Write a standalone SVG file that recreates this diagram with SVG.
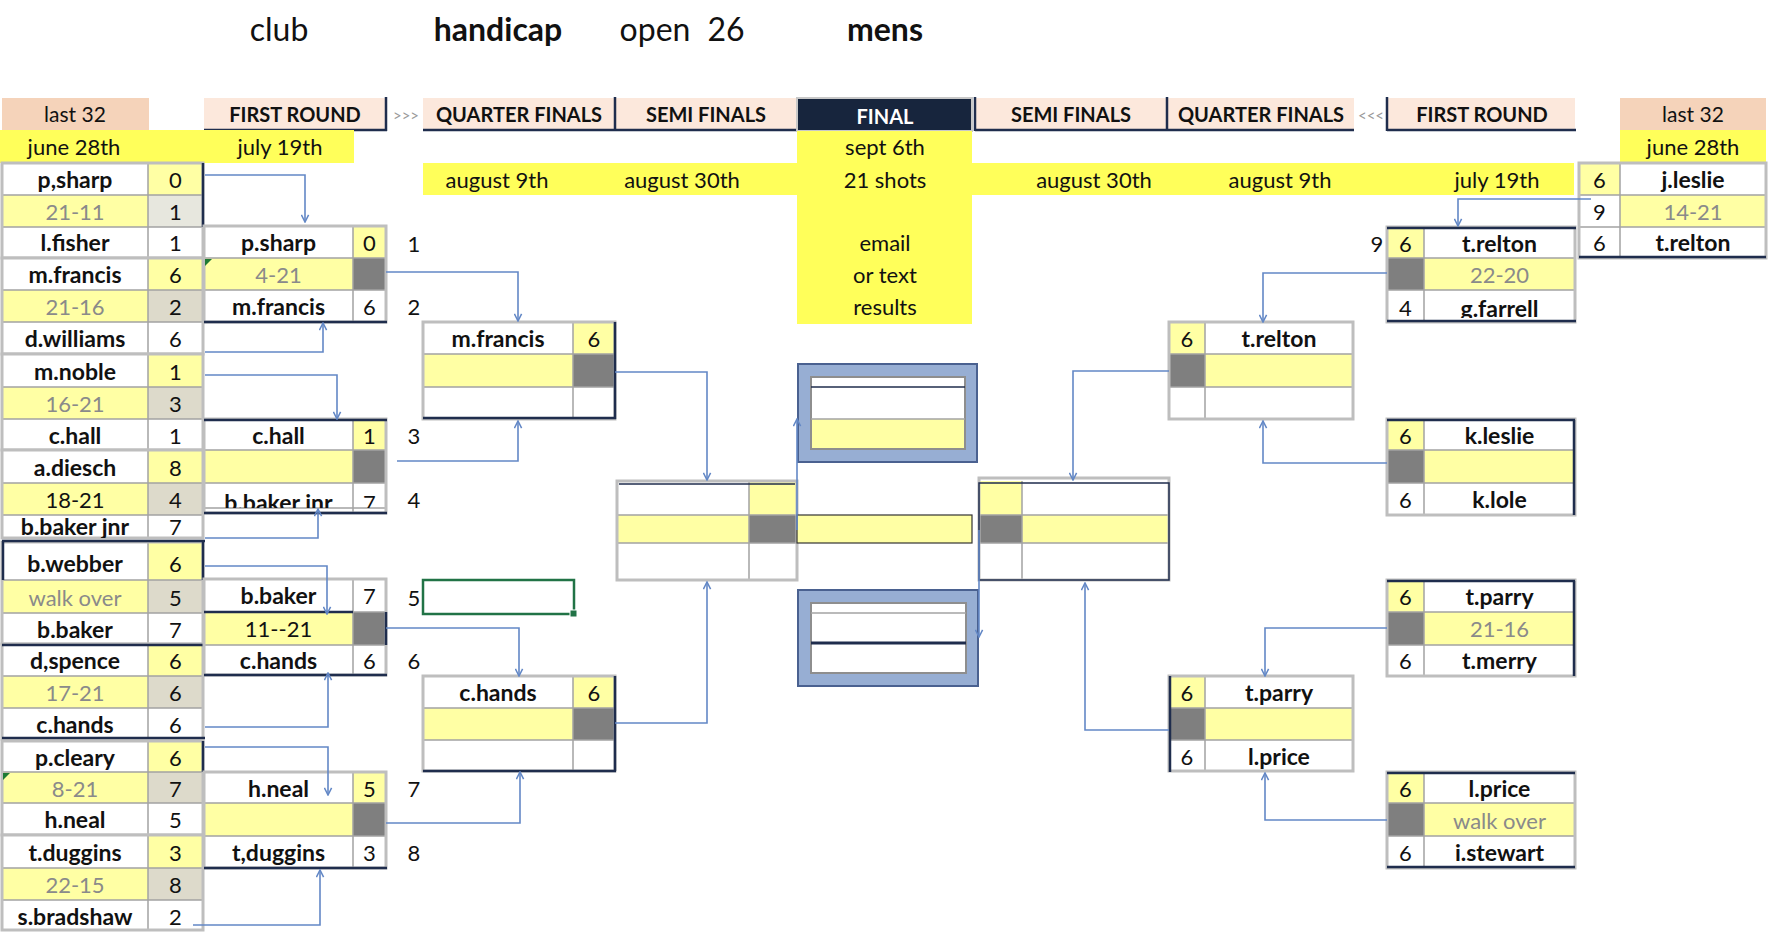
<svg xmlns="http://www.w3.org/2000/svg" width="1768" height="932" viewBox="0 0 1768 932">
<style>
.t{font-family:Lato,"Liberation Sans",sans-serif;font-size:22px;text-anchor:middle;fill:#111}
.b{font-weight:700;font-size:23px}
.m{fill:#8A8A8A}
.h{font-family:Lato,"Liberation Sans",sans-serif;font-size:20px;font-weight:700;text-anchor:middle;fill:#111}
.ti{font-family:Lato,"Liberation Sans",sans-serif;font-size:32px;text-anchor:middle;fill:#111}
.ar{font-family:Lato,"Liberation Sans",sans-serif;font-size:15px;text-anchor:middle;fill:#9A9A9A}
.w{fill:#fff}.y{fill:#FFFFA4}.e{fill:#DDDACB}.d{fill:#7F7F7F}.Y{fill:#FFFF5A}
.pk{fill:#F5D3BA}.pl{fill:#FCE8DC}
.g{fill:none;stroke:#BEBEBE;stroke-width:3}
.l{fill:none;stroke:#A3A3A3;stroke-width:1.5}
.n{fill:none;stroke:#1F2D4D;stroke-width:2.5}
.nt{fill:none;stroke:#1F2D4D;stroke-width:1.5}
.c{fill:none;stroke:#6388C6;stroke-width:1.6;marker-end:url(#a)}
.bl{fill:#97AED3;stroke:#4A6190;stroke-width:2}
.in{fill:#fff;stroke:#8E8E8E;stroke-width:2}
.gt{fill:#1E7B34}
</style>
<defs>
<marker id="a" viewBox="0 0 10 10" refX="9" refY="5" markerWidth="9" markerHeight="9" markerUnits="userSpaceOnUse" orient="auto"><path d="M1 1L9 5L1 9" fill="none" stroke="#6388C6" stroke-width="1.7"/></marker>
<clipPath id="k1"><rect x="0" y="515" width="210" height="23"/></clipPath>
<clipPath id="k2"><rect x="204" y="483" width="183" height="25"/></clipPath>
<clipPath id="k3"><rect x="1387" y="290" width="188" height="28"/></clipPath>
</defs>
<rect width="1768" height="932" fill="#fff"/>

<g id="title">
<text class="ti" x="279" y="41">club</text>
<text class="ti" x="498" y="41" style="font-weight:700">handicap</text>
<text class="ti" x="655" y="41">open</text>
<text class="ti" x="726" y="41">26</text>
<text class="ti" x="885" y="41" style="font-weight:700">mens</text>
</g>

<g id="headers">
<rect class="pk" x="2" y="98" width="147" height="32"/>
<text class="t" x="75" y="122" style="font-size:21px">last 32</text>
<rect class="pl" x="204" y="98" width="182" height="33"/>
<path class="n" d="M204 130H387M386 97V131"/>
<text class="h" x="295" y="122">FIRST ROUND</text>
<text class="ar" x="406" y="121">&gt;&gt;&gt;</text>
<rect class="pl" x="423" y="98" width="374" height="33"/>
<path class="n" d="M423 130H797M615 97V131"/>
<text class="h" x="519" y="122">QUARTER FINALS</text>
<text class="h" x="706" y="122">SEMI FINALS</text>
<rect x="797" y="98" width="175" height="33" fill="#17253D" stroke="#C8C8C8" stroke-width="2"/>
<text class="h" x="885" y="124" style="fill:#fff">FINAL</text>
<rect class="pl" x="975" y="98" width="379" height="33"/>
<path class="n" d="M975 130H1354M975 97V131M1167 97V131"/>
<text class="h" x="1071" y="122">SEMI FINALS</text>
<text class="h" x="1261" y="122">QUARTER FINALS</text>
<text class="ar" x="1371" y="121">&lt;&lt;&lt;</text>
<rect class="pl" x="1387" y="98" width="188" height="33"/>
<path class="n" d="M1387 130H1576M1387 97V131"/>
<text class="h" x="1482" y="122">FIRST ROUND</text>
<rect class="pk" x="1620" y="98" width="146" height="32"/>
<text class="t" x="1693" y="122" style="font-size:21px">last 32</text>
</g>

<g id="dates">
<rect class="Y" x="0" y="130" width="354" height="33"/>
<text class="t" x="74" y="155">june 28th</text>
<text class="t" x="280" y="155">july 19th</text>
<rect class="Y" x="1620" y="130" width="146" height="33"/>
<text class="t" x="1693" y="155">june 28th</text>
<rect class="Y" x="423" y="163" width="1151" height="32"/>
<rect class="Y" x="797" y="131" width="175" height="193"/>
<text class="t" x="497" y="188">august 9th</text>
<text class="t" x="682" y="188">august 30th</text>
<text class="t" x="885" y="155">sept 6th</text>
<text class="t" x="885" y="188">21 shots</text>
<text class="t" x="1094" y="188">august 30th</text>
<text class="t" x="1280" y="188">august 9th</text>
<text class="t" x="1497" y="188">july 19th</text>
<text class="t" x="885" y="251">email</text>
<text class="t" x="885" y="283">or text</text>
<text class="t" x="885" y="315">results</text>
</g>

<g id="l32-psharp">
<rect class="w" x="2" y="163" width="146" height="32"/><rect class="y" x="148" y="163" width="55" height="32"/>
<rect class="y" x="2" y="195" width="146" height="32"/><rect x="148" y="195" width="55" height="32" fill="#E7E7DE"/>
<rect class="w" x="2" y="227" width="201" height="31"/>
<path class="l" d="M2 195H203M2 227H203M148 163V258"/>
<rect class="g" x="2" y="163" width="201" height="95"/>
<path class="n" d="M203 163V227"/>
<text class="t b" x="75" y="188">p,sharp</text><text class="t" x="175.5" y="188">0</text>
<text class="t m" x="75" y="220">21-11</text><text class="t" x="175.5" y="220">1</text>
<text class="t b" x="75" y="251">l.fisher</text><text class="t" x="175.5" y="251">1</text>
</g>
<g id="l32-mfrancis">
<rect class="w" x="2" y="258" width="146" height="32"/><rect class="y" x="148" y="258" width="55" height="32"/>
<rect class="y" x="2" y="290" width="146" height="32"/><rect class="e" x="148" y="290" width="55" height="32"/>
<rect class="w" x="2" y="322" width="201" height="32"/>
<path class="l" d="M2 290H203M2 322H203M148 258V354"/>
<rect class="g" x="2" y="258" width="201" height="96"/>
<text class="t b" x="75" y="283">m.francis</text><text class="t" x="175.5" y="283">6</text>
<text class="t m" x="75" y="315">21-16</text><text class="t" x="175.5" y="315">2</text>
<text class="t b" x="75" y="347">d.williams</text><text class="t" x="175.5" y="347">6</text>
</g>
<g id="l32-mnoble">
<rect class="w" x="2" y="354" width="146" height="33"/><rect class="y" x="148" y="354" width="55" height="33"/>
<rect class="y" x="2" y="387" width="146" height="32"/><rect class="e" x="148" y="387" width="55" height="32"/>
<rect class="w" x="2" y="419" width="201" height="31"/>
<path class="l" d="M2 387H203M2 419H203M148 354V450"/>
<rect class="g" x="2" y="354" width="201" height="96"/>
<text class="t b" x="75" y="380">m.noble</text><text class="t" x="175.5" y="380">1</text>
<text class="t m" x="75" y="412">16-21</text><text class="t" x="175.5" y="412">3</text>
<text class="t b" x="75" y="444">c.hall</text><text class="t" x="175.5" y="444">1</text>
</g>
<g id="l32-adiesch">
<rect class="w" x="2" y="450" width="146" height="33"/><rect class="y" x="148" y="450" width="55" height="33"/>
<rect class="y" x="2" y="483" width="146" height="32"/><rect class="e" x="148" y="483" width="55" height="32"/>
<rect class="w" x="2" y="515" width="201" height="23"/>
<path class="l" d="M2 483H203M2 515H203M148 450V538"/>
<rect class="g" x="2" y="450" width="201" height="88"/>
<text class="t b" x="75" y="476">a.diesch</text><text class="t" x="175.5" y="476">8</text>
<text class="t" x="75" y="508">18-21</text><text class="t" x="175.5" y="508">4</text>
<g clip-path="url(#k1)"><text class="t b" x="75" y="535">b.baker jnr</text><text class="t" x="175.5" y="535">7</text></g>
</g>
<g id="l32-bwebber">
<rect class="w" x="2" y="542" width="146" height="38"/><rect class="y" x="148" y="542" width="55" height="38"/>
<rect class="y" x="2" y="580" width="146" height="33"/><rect class="e" x="148" y="580" width="55" height="33"/>
<rect class="w" x="2" y="613" width="201" height="31"/>
<path class="l" d="M2 580H203M2 613H203M148 542V644"/>
<rect class="g" x="2" y="542" width="201" height="102"/>
<path class="n" d="M2 541H205M203 541V580M3 541V580"/>
<text class="t b" x="75" y="572">b.webber</text><text class="t" x="175.5" y="572">6</text>
<text class="t m" x="75" y="606">walk over</text><text class="t" x="175.5" y="606">5</text>
<text class="t b" x="75" y="638">b.baker</text><text class="t" x="175.5" y="638">7</text>
</g>
<g id="l32-dspence">
<rect class="w" x="2" y="644" width="146" height="32"/><rect class="y" x="148" y="644" width="55" height="32"/>
<rect class="y" x="2" y="676" width="146" height="32"/><rect class="e" x="148" y="676" width="55" height="32"/>
<rect class="w" x="2" y="708" width="201" height="31"/>
<path class="l" d="M2 676H203M2 708H203M148 644V739"/>
<rect class="g" x="2" y="644" width="201" height="95"/>
<path class="n" d="M2 645H205M2 738H205"/>
<text class="t b" x="75" y="669">d,spence</text><text class="t" x="175.5" y="669">6</text>
<text class="t m" x="75" y="701">17-21</text><text class="t" x="175.5" y="701">6</text>
<text class="t b" x="75" y="733">c.hands</text><text class="t" x="175.5" y="733">6</text>
</g>
<g id="l32-pcleary">
<rect class="w" x="2" y="741" width="146" height="31"/><rect class="y" x="148" y="741" width="55" height="31"/>
<rect class="y" x="2" y="772" width="146" height="31"/><rect class="e" x="148" y="772" width="55" height="31"/>
<rect class="w" x="2" y="803" width="201" height="32"/>
<path class="l" d="M2 772H203M2 803H203M148 741V835"/>
<rect class="g" x="2" y="741" width="201" height="94"/>
<path class="n" d="M203 741V772"/>
<polygon class="gt" points="3,773 10,773 3,780"/>
<text class="t b" x="75" y="766">p.cleary</text><text class="t" x="175.5" y="766">6</text>
<text class="t m" x="75" y="797">8-21</text><text class="t" x="175.5" y="797">7</text>
<text class="t b" x="75" y="828">h.neal</text><text class="t" x="175.5" y="828">5</text>
</g>
<g id="l32-tduggins">
<rect class="w" x="2" y="835" width="146" height="33"/><rect class="y" x="148" y="835" width="55" height="33"/>
<rect class="y" x="2" y="868" width="146" height="32"/><rect class="e" x="148" y="868" width="55" height="32"/>
<rect class="w" x="2" y="900" width="201" height="30"/>
<path class="l" d="M2 868H203M2 900H203M148 835V930"/>
<rect class="g" x="2" y="835" width="201" height="95"/>
<text class="t b" x="75" y="861">t.duggins</text><text class="t" x="175.5" y="861">3</text>
<text class="t m" x="75" y="893">22-15</text><text class="t" x="175.5" y="893">8</text>
<text class="t b" x="75" y="925">s.bradshaw</text><text class="t" x="175.5" y="925">2</text>
</g>

<g id="fr-1">
<rect class="w" x="204" y="226" width="149" height="32"/><rect class="y" x="353" y="226" width="33" height="32"/>
<rect class="y" x="204" y="258" width="149" height="32"/><rect class="d" x="353" y="258" width="33" height="32"/>
<rect class="w" x="204" y="290" width="182" height="32"/>
<path class="l" d="M204 258H386M204 290H386M353 226V322"/>
<rect class="g" x="204" y="226" width="182" height="96"/>
<path class="n" d="M204 322H387"/>
<polygon class="gt" points="205,259 212,259 205,266"/>
<text class="t b" x="278.5" y="251">p.sharp</text><text class="t" x="369.5" y="251">0</text>
<text class="t m" x="278.5" y="283">4-21</text>
<text class="t b" x="278.5" y="315">m.francis</text><text class="t" x="369.5" y="315">6</text>
</g>
<g id="fr-2">
<rect class="w" x="204" y="419" width="149" height="31"/><rect class="y" x="353" y="419" width="33" height="31"/>
<rect class="y" x="204" y="450" width="149" height="33"/><rect class="d" x="353" y="450" width="33" height="33"/>
<rect class="w" x="204" y="483" width="182" height="30"/>
<path class="l" d="M204 450H386M204 483H386M353 419V513M204 508H386"/>
<rect class="g" x="204" y="419" width="182" height="94"/>
<path class="n" d="M204 420H387M204 513H387"/>
<text class="t b" x="278.5" y="444">c.hall</text><text class="t" x="369.5" y="444">1</text>
<g clip-path="url(#k2)"><text class="t b" x="278.5" y="511">b.baker jnr</text><text class="t" x="369.5" y="511">7</text></g>
</g>
<g id="fr-3">
<rect class="w" x="204" y="579" width="182" height="33"/>
<rect class="y" x="204" y="612" width="149" height="33"/><rect class="d" x="353" y="612" width="33" height="33"/>
<rect class="w" x="204" y="645" width="182" height="30"/>
<path class="l" d="M204 612H386M204 645H386M353 579V675"/>
<rect class="g" x="204" y="579" width="182" height="96"/>
<path class="n" d="M204 612H353M386 612V645M204 675H387"/>
<text class="t b" x="278.5" y="604">b.baker</text><text class="t" x="369.5" y="604">7</text>
<text class="t" x="278.5" y="637">11--21</text>
<text class="t b" x="278.5" y="669">c.hands</text><text class="t" x="369.5" y="669">6</text>
</g>
<g id="fr-4">
<rect class="w" x="204" y="772" width="149" height="31"/><rect class="y" x="353" y="772" width="33" height="31"/>
<rect class="y" x="204" y="803" width="149" height="33"/><rect class="d" x="353" y="803" width="33" height="33"/>
<rect class="w" x="204" y="836" width="182" height="32"/>
<path class="l" d="M204 803H386M204 836H386M353 772V868"/>
<rect class="g" x="204" y="772" width="182" height="96"/>
<path class="n" d="M204 868H387"/>
<text class="t b" x="278.5" y="797">h.neal</text><text class="t" x="369.5" y="797">5</text>
<text class="t b" x="278.5" y="861">t,duggins</text><text class="t" x="369.5" y="861">3</text>
</g>

<g id="match-numbers">
<text class="t" x="414" y="252">1</text>
<text class="t" x="414" y="315">2</text>
<text class="t" x="414" y="444">3</text>
<text class="t" x="414" y="508">4</text>
<text class="t" x="414" y="606">5</text>
<text class="t" x="414" y="669">6</text>
<text class="t" x="414" y="797">7</text>
<text class="t" x="414" y="861">8</text>
<text class="t" x="1377" y="252">9</text>
</g>

<g id="qf-1">
<rect class="w" x="423" y="322" width="150" height="32"/><rect class="y" x="573" y="322" width="42" height="32"/>
<rect class="y" x="423" y="354" width="150" height="33"/><rect class="d" x="573" y="354" width="42" height="33"/>
<rect class="w" x="423" y="387" width="192" height="32"/>
<path class="l" d="M423 354H615M423 387H615M573 322V419"/>
<rect class="g" x="423" y="322" width="192" height="97"/>
<path class="n" d="M423 418H616M615 322V419"/>
<text class="t b" x="498" y="347">m.francis</text><text class="t" x="594" y="347">6</text>
</g>
<g id="qf-2">
<rect class="w" x="423" y="676" width="150" height="32"/><rect class="y" x="573" y="676" width="42" height="32"/>
<rect class="y" x="423" y="708" width="150" height="32"/><rect class="d" x="573" y="708" width="42" height="32"/>
<rect class="w" x="423" y="740" width="192" height="31"/>
<path class="l" d="M423 708H615M423 740H615M573 676V771"/>
<rect class="g" x="423" y="676" width="192" height="95"/>
<path class="n" d="M423 771H616M615 676V771"/>
<text class="t b" x="498" y="701">c.hands</text><text class="t" x="594" y="701">6</text>
</g>
<g id="selection">
<rect x="423" y="580" width="151" height="34" fill="none" stroke="#217346" stroke-width="2.5"/>
<rect x="570" y="610" width="7" height="7" fill="#217346" stroke="#fff" stroke-width="1"/>
</g>

<g id="sf-left">
<rect class="w" x="617" y="481" width="132" height="34"/><rect class="y" x="749" y="481" width="48" height="34"/>
<rect class="y" x="617" y="515" width="132" height="28"/><rect class="d" x="749" y="515" width="48" height="28"/>
<rect class="w" x="617" y="543" width="180" height="37"/>
<path class="l" d="M617 515H797M617 543H797M749 481V580"/>
<rect class="g" x="617" y="481" width="180" height="99"/>
<path class="nt" d="M619 484H795"/>
</g>
<g id="final-strip">
<rect class="y" x="797" y="515" width="175" height="28" stroke="#333" stroke-width="1.2"/>
</g>
<g id="final-top">
<rect class="bl" x="798" y="364" width="179" height="98"/>
<rect class="in" x="811" y="377" width="154" height="72"/>
<rect class="y" x="812" y="419" width="152" height="29"/>
<path class="nt" d="M811 387H965"/>
<path class="l" d="M811 419H965"/>
</g>
<g id="final-bottom">
<rect class="bl" x="798" y="590" width="180" height="96"/>
<rect class="in" x="811" y="603" width="155" height="70"/>
<path class="l" d="M811 613H966"/>
<path class="n" d="M811 643H966" style="stroke-width:3"/>
</g>
<g id="sf-right">
<rect class="y" x="979" y="481" width="43" height="34"/><rect class="w" x="1022" y="481" width="147" height="34"/>
<rect class="d" x="979" y="515" width="43" height="28"/><rect class="y" x="1022" y="515" width="147" height="28"/>
<rect class="w" x="979" y="543" width="190" height="37"/>
<path class="l" d="M979 515H1169M979 543H1169M1022 481V580"/>
<rect class="g" x="979" y="478" width="190" height="102"/>
<rect class="nt" x="979" y="483" width="190" height="97"/>
</g>

<g id="qf-r1">
<rect class="y" x="1169" y="322" width="36" height="32"/><rect class="w" x="1205" y="322" width="148" height="32"/>
<rect class="d" x="1169" y="354" width="36" height="33"/><rect class="y" x="1205" y="354" width="148" height="33"/>
<rect class="w" x="1169" y="387" width="184" height="32"/>
<path class="l" d="M1169 354H1353M1169 387H1353M1205 322V419"/>
<rect class="g" x="1169" y="322" width="184" height="97"/>
<text class="t" x="1187" y="347">6</text><text class="t b" x="1279" y="347">t.relton</text>
</g>
<g id="qf-r2">
<rect class="y" x="1169" y="676" width="36" height="32"/><rect class="w" x="1205" y="676" width="148" height="32"/>
<rect class="d" x="1169" y="708" width="36" height="32"/><rect class="y" x="1205" y="708" width="148" height="32"/>
<rect class="w" x="1169" y="740" width="184" height="31"/>
<path class="l" d="M1169 708H1353M1169 740H1353M1205 676V771"/>
<rect class="g" x="1169" y="676" width="184" height="95"/>
<path class="n" d="M1170 676V772"/>
<text class="t" x="1187" y="701">6</text><text class="t b" x="1279" y="701">t.parry</text>
<text class="t" x="1187" y="765">6</text><text class="t b" x="1279" y="765">l.price</text>
</g>

<g id="fr-r1">
<rect class="y" x="1387" y="227" width="37" height="31"/><rect class="w" x="1424" y="227" width="151" height="31"/>
<rect class="d" x="1387" y="258" width="37" height="32"/><rect class="y" x="1424" y="258" width="151" height="32"/>
<rect class="w" x="1387" y="290" width="188" height="32"/>
<path class="l" d="M1387 258H1575M1387 290H1575M1424 227V322"/>
<rect class="g" x="1387" y="227" width="188" height="95"/>
<path class="n" d="M1387 228H1576M1387 321H1576"/>
<text class="t" x="1405.5" y="252">6</text><text class="t b" x="1499.5" y="252">t.relton</text>
<text class="t m" x="1499.5" y="283">22-20</text>
<g clip-path="url(#k3)"><text class="t" x="1405.5" y="316">4</text><text class="t b" x="1499.5" y="317">g.farrell</text></g>
</g>
<g id="fr-r2">
<rect class="y" x="1387" y="419" width="37" height="31"/><rect class="w" x="1424" y="419" width="151" height="31"/>
<rect class="d" x="1387" y="450" width="37" height="33"/><rect class="y" x="1424" y="450" width="151" height="33"/>
<rect class="w" x="1387" y="483" width="188" height="32"/>
<path class="l" d="M1387 450H1575M1387 483H1575M1424 419V515"/>
<rect class="g" x="1387" y="419" width="188" height="96"/>
<path class="n" d="M1387 420H1575M1574 420V515"/>
<text class="t" x="1405.5" y="444">6</text><text class="t b" x="1499.5" y="444">k.leslie</text>
<text class="t" x="1405.5" y="508">6</text><text class="t b" x="1499.5" y="508">k.lole</text>
</g>
<g id="fr-r3">
<rect class="y" x="1387" y="580" width="37" height="32"/><rect class="w" x="1424" y="580" width="151" height="32"/>
<rect class="d" x="1387" y="612" width="37" height="33"/><rect class="y" x="1424" y="612" width="151" height="33"/>
<rect class="w" x="1387" y="645" width="188" height="31"/>
<path class="l" d="M1387 612H1575M1387 645H1575M1424 580V676"/>
<rect class="g" x="1387" y="580" width="188" height="96"/>
<path class="n" d="M1387 581H1575M1574 581V676"/>
<text class="t" x="1405.5" y="605">6</text><text class="t b" x="1499.5" y="605">t.parry</text>
<text class="t m" x="1499.5" y="637">21-16</text>
<text class="t" x="1405.5" y="669">6</text><text class="t b" x="1499.5" y="669">t.merry</text>
</g>
<g id="fr-r4">
<rect class="y" x="1387" y="772" width="37" height="31"/><rect class="w" x="1424" y="772" width="151" height="31"/>
<rect class="d" x="1387" y="803" width="37" height="33"/><rect class="y" x="1424" y="803" width="151" height="33"/>
<rect class="w" x="1387" y="836" width="188" height="32"/>
<path class="l" d="M1387 803H1575M1387 836H1575M1424 772V868"/>
<rect class="g" x="1387" y="772" width="188" height="96"/>
<path class="n" d="M1387 773H1575M1387 867H1575"/>
<text class="t" x="1405.5" y="797">6</text><text class="t b" x="1499.5" y="797">l.price</text>
<text class="t m" x="1499.5" y="829">walk over</text>
<text class="t" x="1405.5" y="861">6</text><text class="t b" x="1499.5" y="861">i.stewart</text>
</g>

<g id="l32-r-jleslie">
<rect class="y" x="1579" y="163" width="41" height="32"/><rect class="w" x="1620" y="163" width="146" height="32"/>
<rect class="w" x="1579" y="195" width="41" height="32"/><rect class="y" x="1620" y="195" width="146" height="32"/>
<rect class="w" x="1579" y="227" width="187" height="31"/>
<path class="l" d="M1579 195H1766M1579 227H1766M1620 163V258"/>
<rect class="g" x="1579" y="163" width="187" height="95"/>
<path class="n" d="M1579 257H1766"/>
<text class="t" x="1599.5" y="188">6</text><text class="t b" x="1693" y="188">j.leslie</text>
<text class="t" x="1599.5" y="220">9</text><text class="t m" x="1693" y="220">14-21</text>
<text class="t" x="1599.5" y="251">6</text><text class="t b" x="1693" y="251">t.relton</text>
</g>

<g id="connectors">
<path class="c" d="M205 175H305V222"/>
<path class="c" d="M205 352H323V323"/>
<path class="c" d="M205 375H337V419"/>
<path class="c" d="M205 538H318V509"/>
<path class="c" d="M205 566H327V614"/>
<path class="c" d="M205 727H328V673"/>
<path class="c" d="M205 747H328V795"/>
<path class="c" d="M193 925H320V870"/>
<path class="c" d="M386 272H518V321"/>
<path class="c" d="M397 461H518V421"/>
<path class="c" d="M386 628H519V676"/>
<path class="c" d="M386 823H520V772"/>
<path class="c" d="M615 372H707V480"/>
<path class="c" d="M615 723H707V582"/>
<path class="c" d="M797 530V419"/>
<path class="c" d="M979 530V637"/>
<path class="c" d="M1591 199H1458V226"/>
<path class="c" d="M1387 273H1263V322"/>
<path class="c" d="M1387 463H1263V421"/>
<path class="c" d="M1169 371H1073V480"/>
<path class="c" d="M1387 628H1265V676"/>
<path class="c" d="M1387 820H1265V773"/>
<path class="c" d="M1169 730H1085V583"/>
</g>
</svg>
